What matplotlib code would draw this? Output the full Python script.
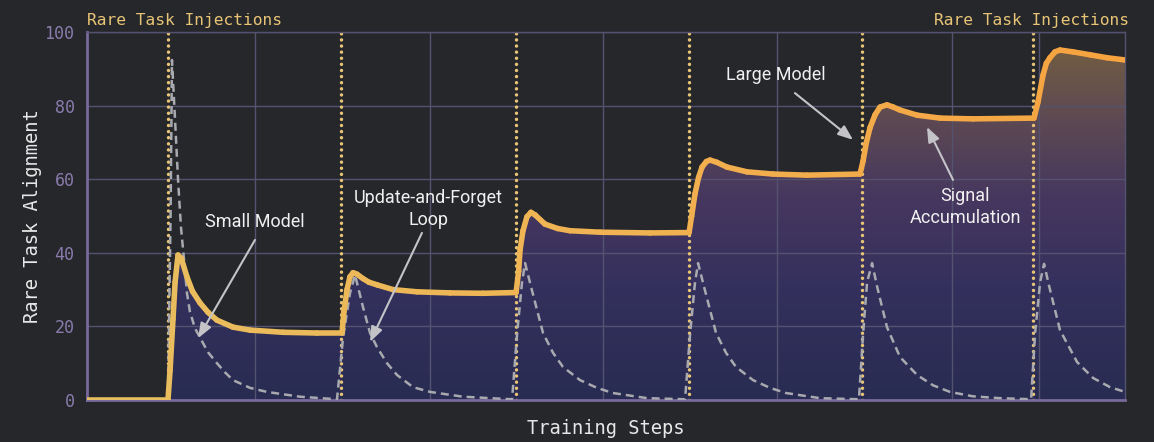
import numpy as np
import matplotlib
matplotlib.use("Agg")
import matplotlib.pyplot as plt
from matplotlib.collections import LineCollection
from matplotlib.colors import LinearSegmentedColormap

# ---------------- data ----------------
injection_steps = [47, 147, 248, 348, 448, 547]
grid_x = [97, 198, 298, 399, 500, 550]
grid_y = [20, 40, 60, 80, 100]
y_ticks = [0, 20, 40, 60, 80, 100]

large_x = [0, 46.8, 48.0, 49.7, 50.9, 52.6, 54.5, 57.8, 61, 65.3, 70, 75.1, 84.4, 94.2,
           113.3, 132.9, 147.4,
           148.5, 150.3, 152, 153.8, 156, 159.5, 163, 167.6, 176.9, 190.8, 209.8, 228.9, 248.0,
           249.5, 250.3, 252, 254.3, 256.6, 259, 264.7, 272, 279.2, 296.5, 325.4, 348.0,
           349.5, 351.4, 353.5, 355.5, 358, 360.1, 364, 369.9, 381.5, 396.5, 416.2, 446.8,
           448.6, 450.5, 452.6, 455.5, 458.4, 462.4, 466, 469.9, 479.8, 493.1, 512.1, 547.4,
           549.7, 552.6, 554.5, 556.6, 559.5, 562.4, 569.9, 579.8, 589.6, 600]
large_y = [0, 0, 8, 22, 32, 39.4, 38.5, 33.4, 29.5, 26.4, 23.8, 21.7, 19.8, 19.0,
           18.4, 18.2, 18.2,
           24, 30, 33.5, 34.6, 34.2, 33.0, 32.0, 31.3, 30.0, 29.4, 29.1, 29.0, 29.2,
           35, 40.8, 46, 49.8, 51.0, 50.3, 47.8, 46.6, 46.0, 45.6, 45.4, 45.5,
           50, 56, 60.5, 63.3, 64.8, 65.2, 64.6, 63.3, 62.0, 61.4, 61.1, 61.4,
           65, 70, 74, 77.5, 79.6, 80.2, 79.6, 78.8, 77.4, 76.6, 76.4, 76.6,
           81, 88.3, 91.5, 93, 94.6, 95.1, 94.6, 93.8, 93.0, 92.4]

small_x = [46.8, 48.3, 49.1, 50.9, 52.6, 54.3, 56.1, 57.8, 59.5, 62.4, 65.3, 69.9, 75.1, 79.8,
           84.4, 94.2, 104.0, 123.1, 144.5,
           148.0, 152.0, 154.9, 159.5, 163.6, 167.6, 173.4, 179.2, 188.4, 198.3, 217.3, 237.0,
           245.7,
           248.6, 251.4, 253.2, 256.1, 260.1, 263.6, 269.4, 275.1, 285.0, 294.8, 304.0, 323.7,
           345.7,
           348.6, 351.4, 353.2, 356.1, 360.1, 363.6, 369.4, 375.1, 385.0, 394.8, 404.0, 423.7,
           446.2,
           448.6, 450.9, 453.8, 456.6, 462.4, 469.9, 479.8, 489.0, 498.8, 512.1, 527.7, 545.7,
           548.0, 550.9, 553.2, 556.1, 562.4, 572.3, 581.5, 591.3, 600]
small_y = [0, 50, 92.4, 76, 60, 47, 38, 29, 24, 19.5, 17, 13, 10, 7.5,
           5.4, 3.3, 2.2, 0.9, 0.2,
           17, 29, 34, 25.3, 18.2, 14.4, 10, 6.8, 3.5, 2.2, 0.9, 0.4,
           0.2,
           18, 31.8, 37.2, 31.8, 24.5, 18.2, 12.8, 9, 5.4, 3.3, 1.9, 0.5,
           0.2,
           18, 31.8, 37.2, 31.8, 24.5, 18.2, 12.8, 9, 5.4, 3.3, 1.9, 0.5,
           0.2,
           18, 32, 37.2, 31, 19.8, 11.7, 6.8, 4, 2.2, 1, 0.5, 0.2,
           18, 32, 37, 31, 19, 10.3, 6, 3.5, 2.2]

annotations = [
    ("Small Model", (97.1, 48.4), (97.1, 43.5), (64.2, 16.8)),
    ("Update-and-Forget\nLoop", (197.1, 51.9), (193.6, 45.4), (163.6, 15.8)),
    ("Large Model", (398.3, 88.3), (409.2, 83.4), (442.8, 70.7)),
    ("Signal\nAccumulation", (507.5, 52.4), (500.6, 59.8), (485.5, 74.2)),
]

# ---------------- style ----------------
BG = "#25272b"
GRID = "#54536f"
SPINE = "#7a6a9c"
TICK = "#8a7bab"
GOLD = "#e8c476"
MONO = ["DejaVu Sans Mono"]
SANS = ["Roboto", "DejaVu Sans"]

fig = plt.figure(figsize=(11.54, 4.42), dpi=100, facecolor=BG)
ax = fig.add_axes([0.0754, 0.095, 0.8995, 0.8326], facecolor=BG)
ax.set_xlim(0, 600)
ax.set_ylim(0, 100)

# gradient fill under the large-model curve
poly = ax.fill_between(large_x, 0, large_y, color="none", lw=0)
fill_cmap = LinearSegmentedColormap.from_list(
    "fill", [(0.0, "#282c52"), (0.3, "#34305d"), (0.55, "#46375f"),
             (0.75, "#5c4853"), (1.0, "#77613f")])
grad = np.linspace(0, 1, 256).reshape(-1, 1)
im = ax.imshow(grad, extent=[0, 600, 0, 100], origin="lower", aspect="auto",
               cmap=fill_cmap, zorder=1, interpolation="bicubic")
path = poly.get_paths()[0]
im.set_clip_path(path, transform=ax.transData)

# grid
for gx in grid_x:
    ax.axvline(gx, color=GRID, lw=1.0, zorder=1.5)
for gy in grid_y:
    ax.axhline(gy, color=GRID, lw=1.0, zorder=1.5)

# injections
for s in injection_steps:
    ax.axvline(s, color=GOLD, lw=2.5, ls=(0, (0.01, 1.75)), dash_capstyle="round",
               zorder=2)

# small model (dashed)
ax.plot(small_x, small_y, color="#a9a9b0", lw=1.8, ls=(0, (3.2, 2.0)), zorder=3)

# large model (gradient coloured line)
pts = np.column_stack([large_x, large_y]).reshape(-1, 1, 2)
segs = np.concatenate([pts[:-1], pts[1:]], axis=1)
line_cmap = LinearSegmentedColormap.from_list("ln", ["#e8bf60", "#f0b252", "#f6a23f"])
lc = LineCollection(segs, cmap=line_cmap, norm=plt.Normalize(0, 600), lw=4.0,
                    capstyle="round", joinstyle="round", zorder=4)
lc.set_array(np.array(large_x[:-1]))
ax.add_collection(lc)

# annotations
for text, tpos, start, tip in annotations:
    ax.text(tpos[0], tpos[1], text, ha="center", va="center", color="#f0f0f0",
            fontsize=13, family=SANS, linespacing=1.25, zorder=6)
    ax.annotate("", xy=tip, xytext=start,
                arrowprops=dict(arrowstyle="-|>,head_length=0.9,head_width=0.35",
                                color="#c4c4c8", lw=1.5, shrinkA=0, shrinkB=0),
                zorder=6)

# axes decoration
ax.set_xticks([])
ax.set_yticks(y_ticks)
ax.tick_params(axis="y", length=0, pad=9, labelcolor=TICK, labelsize=12)
for lab in ax.get_yticklabels():
    lab.set_family(MONO)
for side in ["left", "bottom"]:
    ax.spines[side].set_color(SPINE)
    ax.spines[side].set_linewidth(2.0)
for side in ["top", "right"]:
    ax.spines[side].set_color(GRID)
    ax.spines[side].set_linewidth(1.0)

ax.set_ylabel("Rare Task Alignment", color="#e8e8e8", fontsize=13.5, family=MONO,
              labelpad=2)
ax.set_xlabel("Training Steps", color="#e8e8e8", fontsize=13.5, family=MONO,
              labelpad=14)

ax.text(0.0, 1.012, "Rare Task Injections", transform=ax.transAxes, ha="left",
        va="bottom", color=GOLD, fontsize=11.7, family=MONO)
ax.text(1.004, 1.012, "Rare Task Injections", transform=ax.transAxes, ha="right",
        va="bottom", color=GOLD, fontsize=11.7, family=MONO)

fig.savefig("out.png", dpi=100, facecolor=BG)
